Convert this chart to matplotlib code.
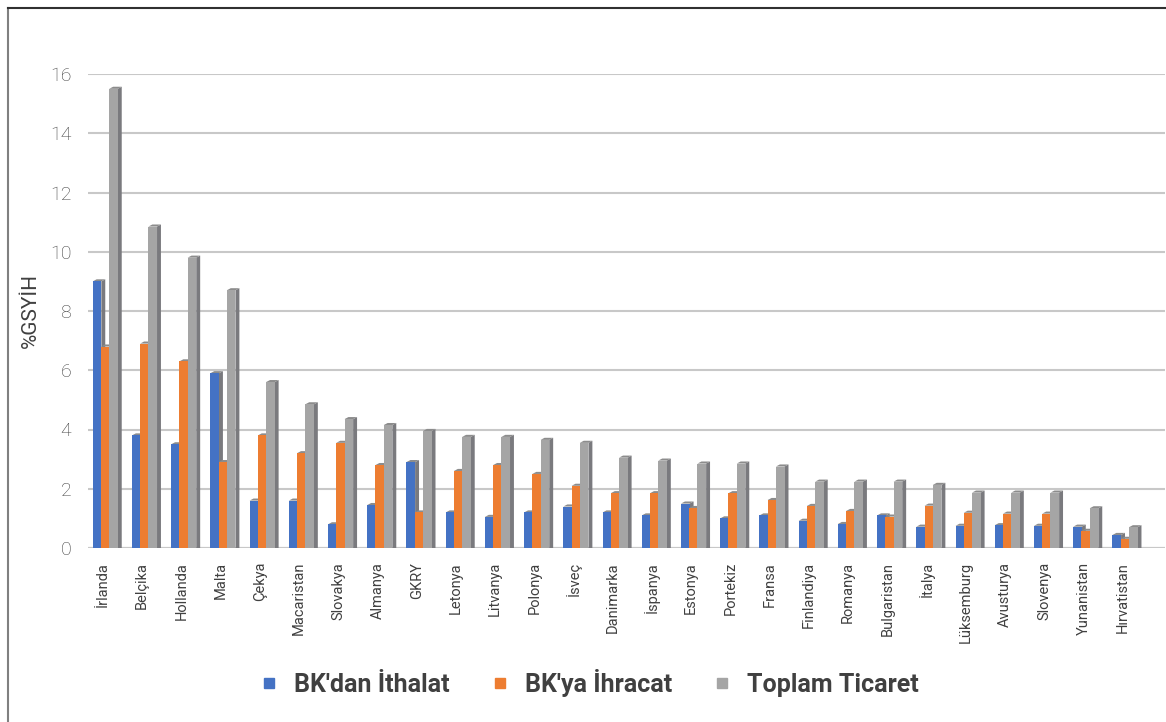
# plot.py
# grouped column chart of UK trade as share of GDP for EU countries
# bars get a fake 3D look (dark side face + thin top face) like the Excel original

import numpy as np
import matplotlib.pyplot as plt
from matplotlib.lines import Line2D

countries = ["İrlanda", "Belçika", "Hollanda", "Malta", "Çekya", "Macaristan",
             "Slovakya", "Almanya", "GKRY", "Letonya", "Litvanya", "Polonya",
             "İsveç", "Danimarka", "İspanya", "Estonya", "Portekiz", "Fransa",
             "Finlandiya", "Romanya", "Bulgaristan", "İtalya", "Lüksemburg",
             "Avusturya", "Slovenya", "Yunanistan", "Hırvatistan"]

ithalat = [9.0, 3.8, 3.5, 5.9, 1.6, 1.6, 0.8, 1.45, 2.9, 1.2, 1.05, 1.2,
           1.4, 1.2, 1.1, 1.5, 1.0, 1.1, 0.92, 0.81, 1.1, 0.72, 0.75,
           0.77, 0.75, 0.72, 0.44]
ihracat = [6.8, 6.9, 6.3, 2.9, 3.8, 3.2, 3.55, 2.8, 1.2, 2.6, 2.8, 2.5,
           2.1, 1.85, 1.85, 1.35, 1.85, 1.62, 1.42, 1.25, 1.06, 1.43, 1.19,
           1.16, 1.16, 0.58, 0.31]
toplam = [15.5, 10.85, 9.8, 8.7, 5.6, 4.85, 4.35, 4.15, 3.95, 3.75, 3.75, 3.65,
          3.55, 3.05, 2.95, 2.85, 2.85, 2.75, 2.24, 2.24, 2.24, 2.13, 1.87,
          1.87, 1.87, 1.34, 0.7]

series = [("BK'dan İthalat", ithalat, "#4472C4"),
          ("BK'ya İhracat", ihracat, "#ED7D31"),
          ("Toplam Ticaret", toplam, "#A5A5A5")]

plt.rcParams['font.family'] = ['Roboto', 'DejaVu Sans']

fig = plt.figure(figsize=(11.66, 7.22), dpi=100)
ax = fig.add_axes([88 / 1166, 1 - 548 / 722, (1165 - 88) / 1166, (548 - 74) / 722])

x = np.arange(len(countries))
w = 0.22          # front face width
depth = 0.10      # side face width (data units along x)
rise = 0.07       # how much the back edge sits above the front (y units)
offsets = [-0.38, -0.17, 0.04]   # left edge of each series inside a group

z = 3
for (name, vals, col), off in zip(series, offsets):
    for xi, h in zip(x, vals):
        x0 = xi + off
        x1 = x0 + w
        # side face
        ax.fill([x1, x1 + depth, x1 + depth, x1], [0, 0, h + rise, h],
                color="#7a7a7e", lw=0, zorder=z)
        # top face
        ax.fill([x0, x1, x1 + depth, x0 + depth], [h, h, h + rise, h + rise],
                color="#8c8c8c", lw=0, zorder=z)
    ax.bar(x + off, vals, width=w, align='edge', color=col, lw=0, zorder=z + 1)
    z += 2

ax.set_ylim(0, 16)
ax.set_xlim(-0.5, 26.96)
ax.set_yticks(range(0, 17, 2))
ax.yaxis.grid(True, color="#c8c8c8", lw=1.5, zorder=0)
ax.set_axisbelow(True)
for s in ax.spines.values():
    s.set_visible(False)
ax.axhline(0, color="#c8c8c8", lw=1.5, zorder=1)
ax.tick_params(axis='y', length=0, labelsize=14, labelcolor="#404040", pad=12)
ax.tick_params(axis='x', length=0, pad=10)
ax.set_xticks(x - 0.12)
ax.set_xticklabels(countries, rotation=90, fontsize=10.5, color="#404040",
                   va='top', ha='center')
for lbl in ax.get_yticklabels():
    lbl.set_fontweight('light')
ax.set_ylabel("%GSYİH", fontsize=15, color="#404040")
ax.yaxis.set_label_coords(-48 / 1077, 0.5)

# legend below the plot
handles = [Line2D([0], [0], marker='s', ls='', color=c, markersize=7)
           for _, _, c in series]
fig.legend(handles, [s[0] for s in series], loc='center', ncol=3,
           bbox_to_anchor=(589 / 1166, 1 - 683 / 722), frameon=False,
           prop={'weight': 'bold', 'size': 18}, labelcolor="#404040",
           handlelength=0.8, handletextpad=0.6, columnspacing=1.6)

# chart border (left and top edge visible in the original)
fig.add_artist(Line2D([8 / 1166, 8 / 1166], [0, 1 - 8 / 722], color="#808080", lw=1.5))
fig.add_artist(Line2D([8 / 1166, 1], [1 - 8 / 722, 1 - 8 / 722], color="#303030", lw=1.5))

fig.savefig("out.png", dpi=100)
